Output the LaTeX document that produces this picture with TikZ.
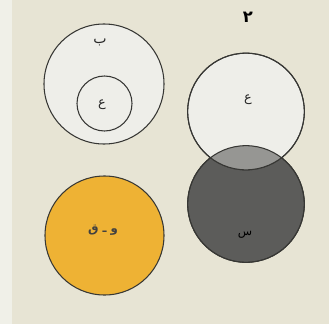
\documentclass[tikz,border=0pt]{standalone}
\usepackage{fontspec}
\usepackage{tikz}
\usetikzlibrary{positioning}
\TeXXeTstate=1
\newfontfamily\arabicfont[Script=Arabic]{DejaVu Sans}
\definecolor{PageBeige}{RGB}{231,228,212}
\definecolor{PageEdge}{RGB}{240,240,232}
\definecolor{PaleFill}{RGB}{238,238,233}
\definecolor{RingGray}{RGB}{55,55,52}
\definecolor{DarkFill}{RGB}{92,92,90}
\definecolor{MidFill}{RGB}{150,150,147}
\definecolor{SunOrange}{RGB}{238,178,52}

\begin{document}
\begin{tikzpicture}[x=0.03cm,y=0.03cm,
    ring/.style={draw=RingGray,line width=0.9pt},
    setdisc/.style={circle,ring,inner sep=0pt},
    letter/.style={font=\arabicfont\fontsize{11}{13}\selectfont,text=black!85}]
  % page
  \fill[PageBeige] (0,0) rectangle (329,324);
  \fill[PageEdge] (0,0) rectangle (12,324);
  \useasboundingbox (0,0) rectangle (329,324);

  % nested sets
  \node[setdisc,fill=PaleFill,minimum size=3.6cm] (B) at (104,240) {};
  \node[setdisc,minimum size=1.65cm] (Ain) at (104.5,220.5) {};
  \node[letter,font=\arabicfont\fontsize{12}{14}\selectfont] (Blab) at (100,282) {\beginR ب\endR};
  \node[letter] (Ainlab) at (102,219) {\beginR ع\endR};

  % overlapping sets
  \node[setdisc,fill=DarkFill,minimum size=3.5cm] (S) at (246,120) {};
  \node[setdisc,fill=PaleFill,minimum size=3.5cm] (A) at (246,212.5) {};
  \begin{scope}
    \clip (A.center) circle (1.75cm);
    \fill[MidFill] (S.center) circle (1.75cm);
  \end{scope}
  \draw[ring] (S.center) circle (1.75cm);
  \draw[ring] (A.center) circle (1.75cm);
  \node[letter] (Alab) at (248,224) {\beginR ع\endR};
  \node[letter,text=black,font=\arabicfont\fontsize{10}{12}\selectfont] (Slab) at (245,89) {\beginR س\endR};

  % equal sets
  \node[setdisc,fill=SunOrange,minimum size=3.57cm] (WQ) at (104.5,88.5) {};
  \node[letter,font=\arabicfont\bfseries\fontsize{10}{12}\selectfont,text=black!75] (WQlab) at (103,94) {\beginR و ـ ق\endR};

  % figure number
  \node[font=\arabicfont\bfseries\fontsize{14}{16}\selectfont] (num) at (248,307) {\beginR ۲\endR};
\end{tikzpicture}
\end{document}
